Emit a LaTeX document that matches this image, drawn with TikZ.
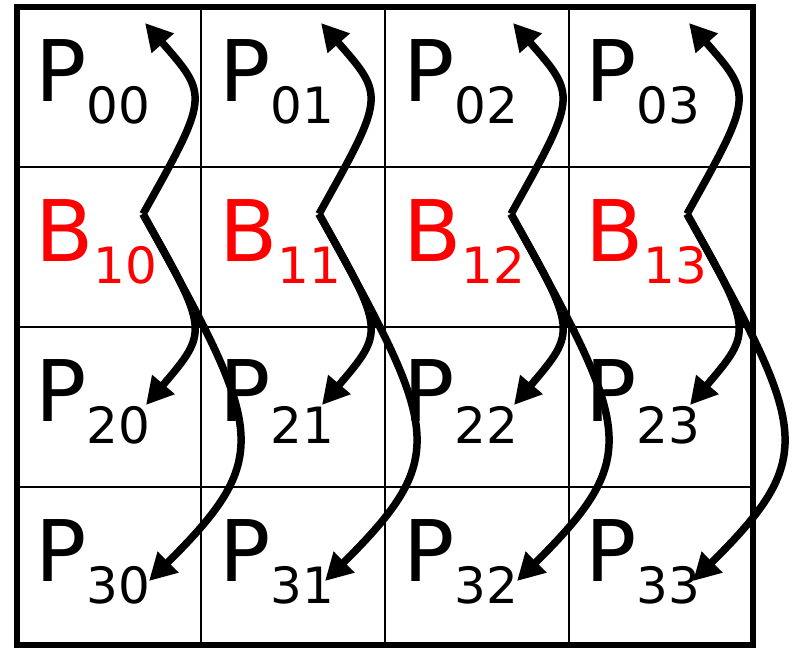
\documentclass[tikz,border=0pt]{standalone}
\usepackage{fontspec}
\setmainfont{DejaVu Sans}
\usetikzlibrary{arrows.meta}
\newcommand\celltext[2]{{\fontsize{85pt}{85pt}\selectfont #1}{\fontsize{50pt}{50pt}\selectfont\raisebox{-22pt}{#2}}}
\begin{document}
\begin{tikzpicture}[x=1pt,y=-1pt,
  cell/.style={anchor=base west,inner sep=0pt},
  gridline/.style={line width=2.5pt},
  frameline/.style={line width=5.5pt},
  arr/.style={line width=7.5pt,-{Triangle[length=27pt,width=28pt]}}]
\useasboundingbox (0,0) rectangle (794,647);
\foreach \x in {201,385,569} \draw[gridline] (\x,7) -- (\x,645);
\foreach \y in {167,327,487} \draw[gridline] (17,\y) -- (753,\y);
\draw[frameline] (17,7) rectangle (753,645);
\foreach \c/\cx in {0/35,1/219,2/403,3/585} {
  \node[cell] (p0\c) at (\cx,101.7) {\celltext{P}{0\c}};
  \node[cell,text=red] (b1\c) at (\cx,261.7) {\celltext{B}{1\c}};
  \node[cell] (p2\c) at (\cx,421.7) {\celltext{P}{2\c}};
  \node[cell] (p3\c) at (\cx,581.7) {\celltext{P}{3\c}};
}
\foreach \c/\vx in {0/143,1/319,2/511,3/687} {
  \coordinate (v\c) at (\vx,214);
  \coordinate (ta\c) at (\vx+2,23);
  \coordinate (tb\c) at (\vx+3,405);
  \coordinate (tc\c) at (\vx+6,581);
  \draw[arr] (v\c) .. controls (\vx+66,96) and (\vx+66,96) .. (ta\c);
  \draw[arr] (v\c) .. controls (\vx+66,331) and (\vx+66,331) .. (tb\c);
  \draw[arr] (v\c) .. controls (\vx+119,429) and (\vx+133,455) .. (tc\c);
}
\end{tikzpicture}
\end{document}
